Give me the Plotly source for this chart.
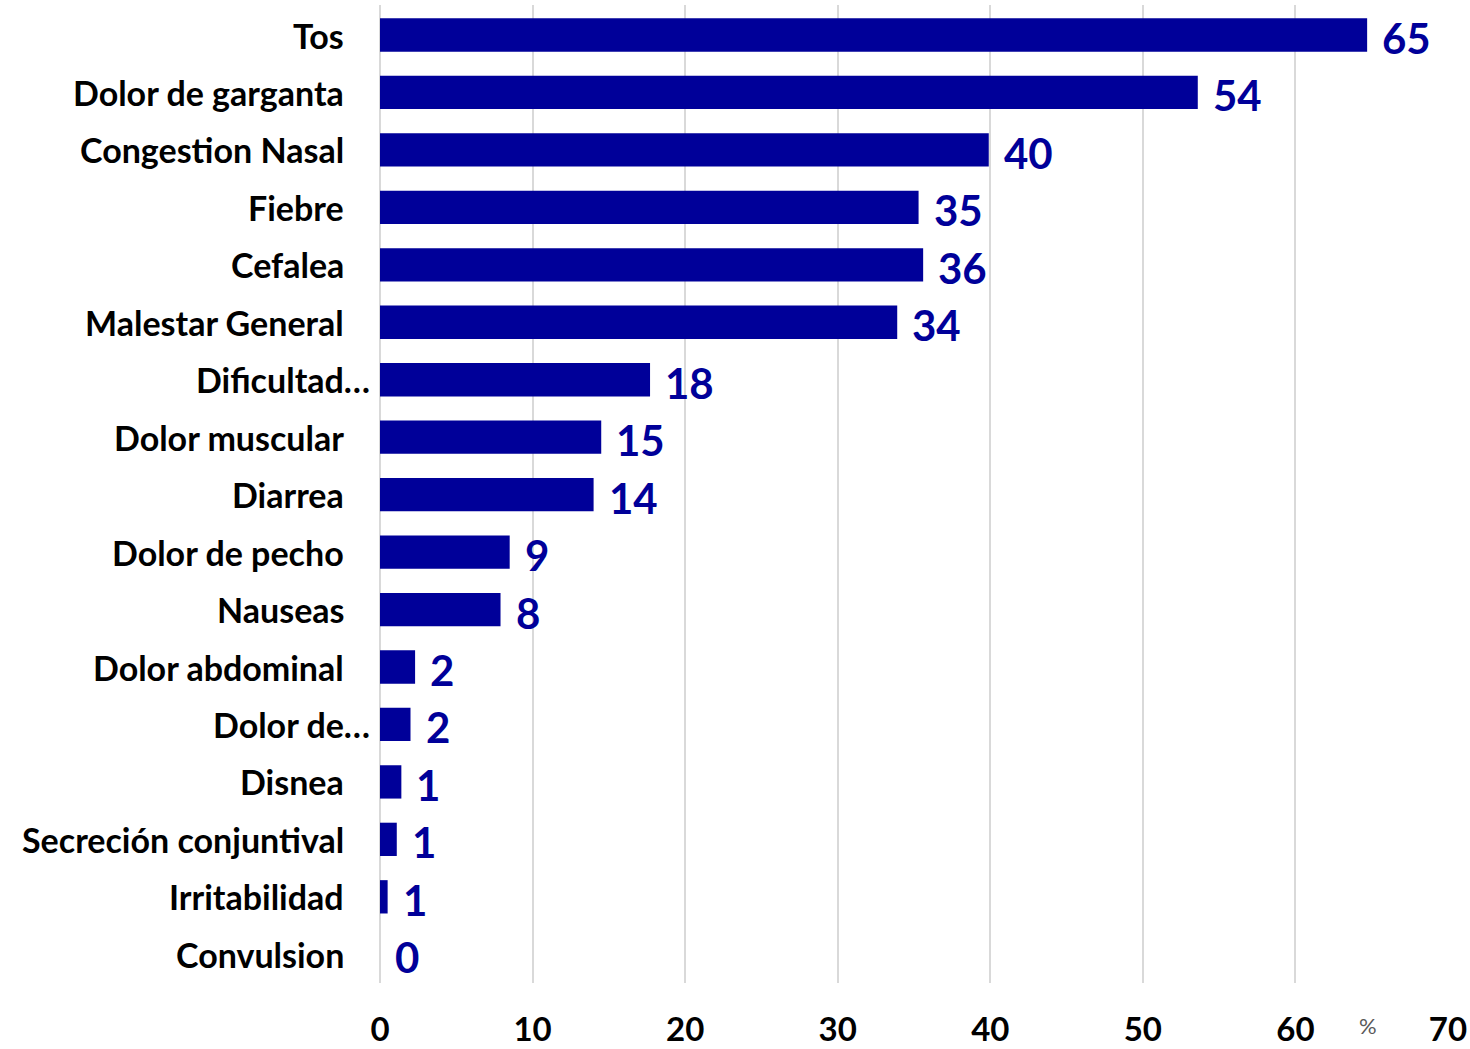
import plotly.graph_objects as go

categories = ["Tos", "Dolor de garganta", "Congestion Nasal", "Fiebre", "Cefalea",
              "Malestar General", "Dificultad…", "Dolor muscular", "Diarrea",
              "Dolor de pecho", "Nauseas", "Dolor abdominal", "Dolor de…", "Disnea",
              "Secreción conjuntival", "Irritabilidad", "Convulsion"]
values = [64.7, 53.6, 39.9, 35.3, 35.6, 33.9, 17.7, 14.5, 14.0, 8.5, 7.9, 2.3, 2.0,
          1.4, 1.1, 0.5, 0.0]
value_labels = ["65", "54", "40", "35", "36", "34", "18", "15", "14", "9", "8", "2", "2",
                "1", "1", "1", "0"]
x_ticks = [0, 10, 20, 30, 40, 50, 60, 70]

BAR = "#000099"
FONT = "Lato"

fig = go.Figure(go.Bar(
    x=values, y=categories, orientation="h",
    marker=dict(color=BAR, line=dict(width=0)),
    width=0.58,
))

for c, v, t in zip(categories, values, value_labels):
    fig.add_annotation(x=v, y=c, text=t, showarrow=False, xanchor="left",
                       yanchor="middle", xshift=13, yshift=-3,
                       font=dict(family=FONT, size=42, color=BAR, weight="bold"))
    truncated = c.endswith("…")
    fig.add_annotation(x=0, y=c, xref="x", text=c, showarrow=False,
                       xanchor="right", yanchor="middle",
                       xshift=-8 if truncated else -34,
                       font=dict(family=FONT, size=34, color="black", weight="bold"))

fig.add_annotation(x=0.9355, xref="paper", y=-0.028, yref="paper", text="%",
                   showarrow=False, yanchor="top",
                   font=dict(family=FONT, size=22, color="#595959"))

fig.update_layout(
    width=1470, height=1049,
    margin=dict(l=380, r=22, t=5, b=66),
    plot_bgcolor="white", paper_bgcolor="white",
    showlegend=False,
    xaxis=dict(range=[0, 70], tickvals=x_ticks, showgrid=True, gridcolor="#d9d9d9",
               gridwidth=1.5, zeroline=True, zerolinecolor="#d9d9d9", zerolinewidth=1.5,
               showline=False, ticks="", ticklabelstandoff=24, automargin=False,
               tickfont=dict(family=FONT, size=33, color="black", weight="bold")),
    yaxis=dict(autorange="reversed", showticklabels=False, showgrid=False,
               zeroline=False, showline=False, ticks="", automargin=False),
)

fig.write_html("out.html", config={"displayModeBar": False},
               post_script="document.body.style.margin='0';document.body.style.overflow='hidden';")
